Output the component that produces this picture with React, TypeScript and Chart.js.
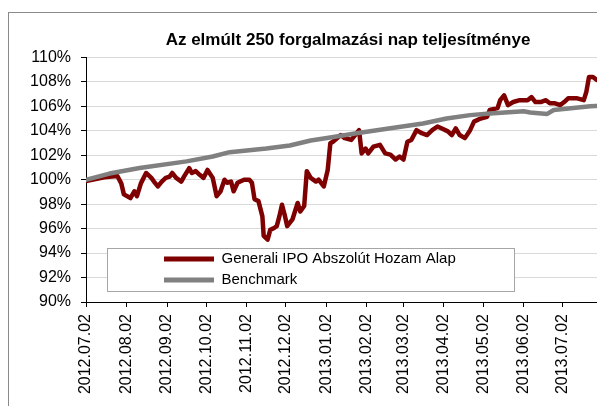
import React, { useEffect, useRef } from 'react';
import { Chart, registerables } from 'chart.js';

Chart.register(...registerables);

const TITLE = 'Az elmúlt 250 forgalmazási nap teljesítménye';
const FUND_NAME = 'Generali IPO Abszolút Hozam Alap';
const BENCH_NAME = 'Benchmark';
const START_DATE = '2012.07.02';

const X_TICK_LABELS = [
  '2012.07.02', '2012.08.02', '2012.09.02', '2012.10.02', '2012.11.02', '2012.12.02',
  '2013.01.02', '2013.02.02', '2013.03.02', '2013.04.02', '2013.05.02', '2013.06.02', '2013.07.02',
];

// days elapsed since START_DATE
const FUND_DAYS = [
  0, 14, 24, 27, 29, 34, 37, 39, 42, 46, 50, 52, 55, 58, 61, 64, 66, 69, 73, 75, 79, 81, 84, 87, 90,
  93, 97, 100, 103, 106, 108, 111, 113, 116, 118, 121, 125, 127, 129, 132, 135, 136, 139, 141, 144,
  146, 148, 150, 152, 154, 158, 162, 164, 167, 169, 172, 176, 178, 182, 185, 187, 189, 195, 198, 203,
  206, 209, 211, 214, 216, 220, 225, 229, 233, 237, 240, 243, 246, 249, 253, 257, 261, 265, 269, 272,
  277, 280, 283, 286, 290, 294, 297, 302, 307, 309, 315, 317, 320, 323, 327, 332, 338, 341, 344, 348,
  352, 355, 359, 363, 366, 369, 376, 381, 383, 385, 388, 391, 394,
];
const FUND_VALUES = [
  99.9, 100.2, 100.3, 99.7, 98.8, 98.5, 99.05, 98.65, 99.7, 100.55, 100.15, 99.85, 99.45, 99.85, 100.15,
  100.25, 100.55, 100.15, 99.85, 100.25, 100.95, 100.55, 100.7, 100.4, 100.15, 100.8, 100.15, 98.65,
  99.05, 100.0, 99.75, 99.85, 99.05, 99.75, 99.85, 100.0, 100.0, 99.75, 98.4, 98.25, 97.0, 95.4, 95.1,
  95.9, 96.05, 96.2, 97.0, 97.95, 97.15, 96.2, 96.75, 98.1, 97.4, 97.85, 100.7, 100.15, 99.85, 100.0,
  99.45, 100.8, 102.98, 103.1, 103.65, 103.4, 103.25, 103.65, 104.05, 102.15, 102.55, 102.15, 102.7,
  102.85, 102.15, 102.05, 101.65, 101.9, 101.65, 103.1, 103.25, 104.05, 103.8, 103.65, 104.05, 104.35,
  104.2, 103.95, 103.65, 104.2, 103.65, 103.4, 104.05, 104.75, 105.0, 105.15, 105.7, 105.85, 106.5,
  106.9, 106.1, 106.35, 106.5, 106.5, 106.75, 106.35, 106.35, 106.5, 106.25, 106.25, 106.1, 106.35,
  106.65, 106.65, 106.5, 107.2, 108.4, 108.4, 108.15, 108.1,
];

const BENCH_DAYS = [0, 18, 41, 77, 97, 110, 138, 156, 172, 187, 207, 233, 258, 276, 294, 309, 335, 340, 353, 358, 386, 394];
const BENCH_VALUES = [
  100.0, 100.5, 100.95, 101.5, 101.9, 102.25, 102.55, 102.8, 103.2, 103.45, 103.8, 104.2, 104.6, 105.0,
  105.28, 105.42, 105.6, 105.5, 105.38, 105.7, 106.0, 106.05,
];

const Y_MIN = 90;
const Y_MAX = 110;
const Y_STEP = 2;
const X_MAX_DAYS = 460;

const FUND_COLOR = '#7f0000';
const BENCH_COLOR = '#808080';

function daysSinceStart(label: string): number {
  const [y, m, d] = label.split('.').map(Number);
  const [sy, sm, sd] = START_DATE.split('.').map(Number);
  return Math.round((Date.UTC(y, m - 1, d) - Date.UTC(sy, sm - 1, sd)) / 86400000);
}

const X_TICK_DAYS = X_TICK_LABELS.map(daysSinceStart);

const CANVAS_W = 678;
const CANVAS_H = 420;

const legendPlacer = {
  id: 'legendPlacer',
  afterLayout(chart: any) {
    const lg = chart.legend;
    if (!lg) return;
    const h = lg.height;
    const w = lg.width;
    lg.left = 149;
    lg.top = 232.5;
    lg.right = lg.left + w;
    lg.bottom = lg.top + h;
    if (!lg.__patched) {
      lg.__patched = true;
      const proto = Object.getPrototypeOf(lg);
      lg.draw = function (...args: any[]) {
        const ctx = chart.ctx;
        ctx.save();
        ctx.fillStyle = '#ffffff';
        ctx.fillRect(98, 235, 407, 43);
        ctx.strokeStyle = '#a6a6a6';
        ctx.lineWidth = 1;
        ctx.strokeRect(98.5, 235.5, 407, 43);
        ctx.restore();
        return proto.draw.apply(this, args);
      };
    }
  },
};

export default function App() {
  const ref = useRef<HTMLCanvasElement | null>(null);

  useEffect(() => {
    if (!ref.current) return;
    Chart.defaults.font.family = "'Liberation Sans', Arial, sans-serif";
    const chart = new Chart(ref.current, {
      type: 'line',
      data: {
        datasets: [
          {
            label: BENCH_NAME,
            data: BENCH_DAYS.map((d, i) => ({ x: d, y: BENCH_VALUES[i] })),
            borderColor: BENCH_COLOR,
            backgroundColor: BENCH_COLOR,
            borderWidth: 4.5,
            pointRadius: 0,
            tension: 0,
            borderJoinStyle: 'round',
            borderCapStyle: 'round',
          },
          {
            label: FUND_NAME,
            data: FUND_DAYS.map((d, i) => ({ x: d, y: FUND_VALUES[i] })),
            borderColor: FUND_COLOR,
            backgroundColor: FUND_COLOR,
            borderWidth: 4.5,
            pointRadius: 0,
            tension: 0,
            borderJoinStyle: 'round',
            borderCapStyle: 'round',
          },
        ],
      },
      options: {
        animation: false,
        responsive: false,
        events: [],
        layout: { padding: { left: 0, right: 0, top: 0, bottom: 0 } },
        plugins: {
          tooltip: { enabled: false },
          title: {
            display: true,
            text: TITLE,
            color: '#000',
            font: { size: 17, weight: 'bold' },
            padding: { top: 17, bottom: 7 },
          },
          legend: {
            display: true,
            position: 'chartArea',
            align: 'start',
            labels: {
              boxWidth: 50,
              boxHeight: 5,
              padding: 6,
              color: '#000',
              font: { size: 15 },
              generateLabels: () => [
                { text: FUND_NAME, fillStyle: FUND_COLOR, strokeStyle: FUND_COLOR, lineWidth: 0, hidden: false, datasetIndex: 1 },
                { text: BENCH_NAME, fillStyle: BENCH_COLOR, strokeStyle: BENCH_COLOR, lineWidth: 0, hidden: false, datasetIndex: 0 },
              ],
            },
          },
        },
        scales: {
          x: {
            type: 'linear',
            min: 0,
            max: X_MAX_DAYS,
            afterBuildTicks: (s: any) => {
              s.ticks = X_TICK_DAYS.map((v) => ({ value: v }));
            },
            afterFit: (s: any) => {
              s.height = 131;
            },
            ticks: {
              autoSkip: false,
              minRotation: 90,
              maxRotation: 90,
              padding: 7,
              color: '#000',
              font: { size: 16 },
              callback: (_v: any, i: number) => X_TICK_LABELS[i],
            },
            grid: { drawOnChartArea: false, drawTicks: true, tickLength: 5, tickColor: '#000' },
            border: { color: '#000', width: 1 },
          },
          y: {
            min: Y_MIN,
            max: Y_MAX,
            afterFit: (s: any) => {
              s.width = 77;
            },
            ticks: {
              stepSize: Y_STEP,
              padding: 10,
              color: '#000',
              font: { size: 16 },
              callback: (v: any) => v + '%',
            },
            grid: { color: '#d9d9d9', tickColor: '#000', tickLength: 5, lineWidth: 1 },
            border: { color: '#000', width: 1 },
          },
        },
      } as any,
      plugins: [legendPlacer],
    });
    return () => chart.destroy();
  }, []);

  return (
    <div
      style={{
        position: 'fixed',
        left: 0,
        top: 0,
        width: 597,
        height: 406,
        overflow: 'hidden',
        background: '#fff',
      }}
    >
      <div
        style={{
          position: 'absolute',
          left: 8,
          top: 12,
          width: CANVAS_W + 2,
          height: CANVAS_H + 2,
          border: '1px solid #8a8a8a',
          boxSizing: 'border-box',
          background: '#fff',
        }}
      >
        <canvas ref={ref} width={CANVAS_W} height={CANVAS_H} style={{ display: 'block' }} />
      </div>
    </div>
  );
}
